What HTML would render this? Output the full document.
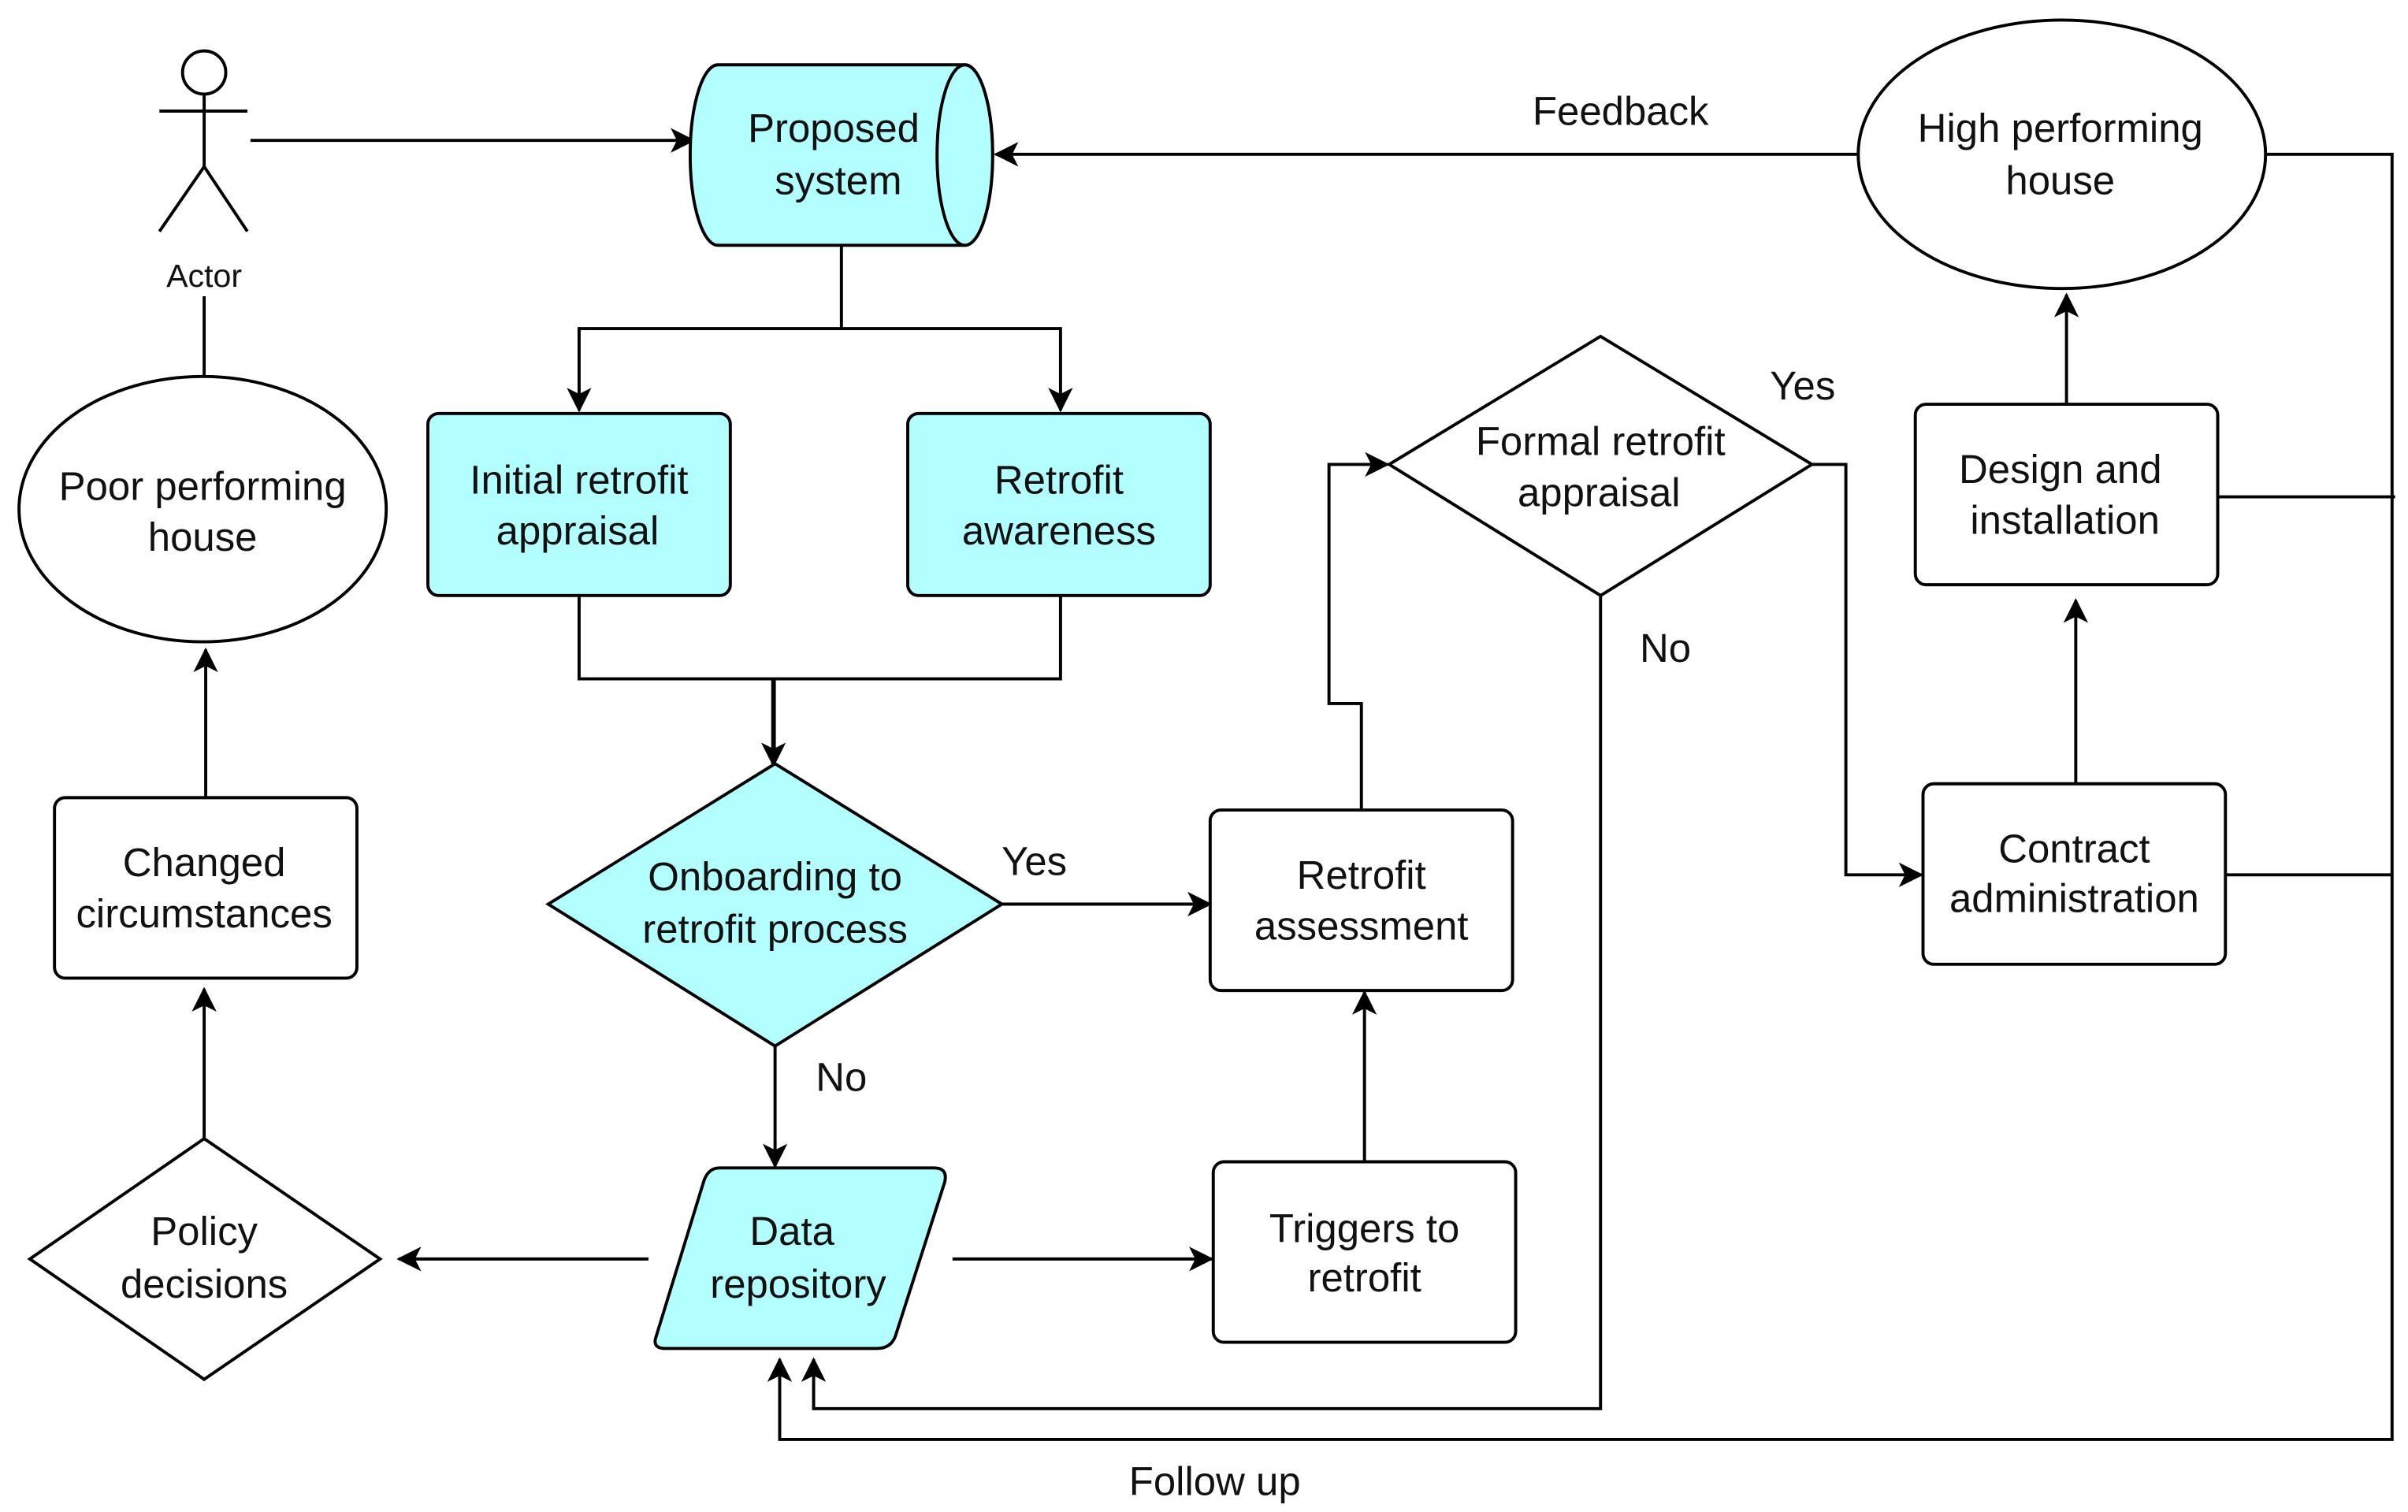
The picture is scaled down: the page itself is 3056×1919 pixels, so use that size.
<!DOCTYPE html>
<html><head><meta charset="utf-8"><style>
html,body{margin:0;padding:0;background:#fff;}
svg{display:block;}
text{font-family:"Liberation Sans",Arial,sans-serif;fill:#111;text-anchor:middle;}
</style></head><body>
<svg width="3056" height="1919" viewBox="0 0 1560 980" xmlns="http://www.w3.org/2000/svg">
<defs>
<marker id="a" viewBox="0 0 12 12" refX="11" refY="6" markerWidth="16" markerHeight="16" markerUnits="userSpaceOnUse" orient="auto">
<path d="M0,0 L12,6 L0,12 L3,6 Z" fill="#000"/>
</marker>
</defs>
<g stroke="#000" stroke-width="2" fill="none">
<circle cx="132" cy="47" r="14" fill="#fff"/>
<line x1="132" y1="61" x2="132" y2="108"/>
<line x1="103" y1="72" x2="160" y2="72"/>
<line x1="132" y1="108" x2="103" y2="150"/>
<line x1="132" y1="108" x2="160" y2="150"/>
<line x1="132" y1="192" x2="132" y2="245"/>
<line x1="162" y1="91" x2="449" y2="91" marker-end="url(#a)"/>
<line x1="1205" y1="100" x2="645" y2="100" marker-end="url(#a)"/>
<polyline points="1468,100 1550,100 1550,933 505,933 505,881" marker-end="url(#a)"/>
<line x1="1437" y1="322" x2="1552" y2="322"/>
<line x1="1442" y1="567" x2="1550" y2="567"/>
<polyline points="545,159 545,213 375,213 375,266" marker-end="url(#a)"/>
<polyline points="545,213 687,213 687,266" marker-end="url(#a)"/>
<polyline points="375,386 375,440 687,440 687,386"/>
<line x1="501" y1="440" x2="501" y2="496" stroke-width="3" marker-end="url(#a)"/>
<line x1="649" y1="586" x2="784" y2="586" marker-end="url(#a)"/>
<line x1="502" y1="678" x2="502" y2="756" marker-end="url(#a)"/>
<line x1="420" y1="816" x2="258" y2="816" marker-end="url(#a)"/>
<line x1="617" y1="816" x2="785" y2="816" marker-end="url(#a)"/>
<line x1="132" y1="738" x2="132" y2="641" marker-end="url(#a)"/>
<line x1="133" y1="517" x2="133" y2="421" marker-end="url(#a)"/>
<line x1="884" y1="753" x2="884" y2="643" marker-end="url(#a)"/>
<polyline points="882,525 882,456 861,456 861,301 899,301" marker-end="url(#a)"/>
<polyline points="1174,301 1196,301 1196,567 1245,567" marker-end="url(#a)"/>
<polyline points="1037,386 1037,913 527,913 527,881" marker-end="url(#a)"/>
<line x1="1345" y1="508" x2="1345" y2="389" marker-end="url(#a)"/>
<line x1="1339" y1="262" x2="1339" y2="191" marker-end="url(#a)"/>
</g>
<g stroke="#000" stroke-width="2">
<ellipse cx="131" cy="330" rx="119" ry="86" fill="#fff"/>
<ellipse cx="1336" cy="100" rx="132" ry="87" fill="#fff"/>
<path d="M465,42 L625,42 A18,58.5 0 0 1 625,159 L465,159 A18,58.5 0 0 1 465,42 Z" fill="#b3ffff"/>
<ellipse cx="625" cy="100.5" rx="18" ry="58.5" fill="#b3ffff"/>
<rect x="277" y="268" width="196" height="118" rx="7" fill="#b3ffff"/>
<rect x="588" y="268" width="196" height="118" rx="7" fill="#b3ffff"/>
<polygon points="502,495 649,586 502,678 355,586" fill="#b3ffff"/>
<path d="M466,757 L605,757 Q614,757 612,766 L580,866 Q577,874 568,874 L431,874 Q422,874 425,866 L456,765 Q459,757 466,757 Z" fill="#b3ffff"/>
<polygon points="132,738 246,816 132,894 19,816" fill="#fff"/>
<rect x="35" y="517" width="196" height="117" rx="7" fill="#fff"/>
<rect x="784" y="525" width="196" height="117" rx="7" fill="#fff"/>
<rect x="786" y="753" width="196" height="117" rx="7" fill="#fff"/>
<rect x="1246" y="508" width="196" height="117" rx="7" fill="#fff"/>
<rect x="1241" y="262" width="196" height="117" rx="7" fill="#fff"/>
<polygon points="1037,218 1174,301 1037,386 900,301" fill="#fff"/>
</g>
<g font-size="26">
<text x="132" y="186" font-size="21">Actor</text>
<text x="131" y="324">Poor performing</text><text x="131" y="357">house</text>
<text x="540" y="92">Proposed</text><text x="543" y="126">system</text>
<text x="1050" y="81">Feedback</text>
<text x="1335" y="92">High performing</text><text x="1335" y="126">house</text>
<text x="375" y="320">Initial retrofit</text><text x="374" y="353">appraisal</text>
<text x="686" y="320">Retrofit</text><text x="686" y="353">awareness</text>
<text x="1037" y="295">Formal retrofit</text><text x="1036" y="328">appraisal</text>
<text x="1168" y="259">Yes</text>
<text x="1079" y="429">No</text>
<text x="1335" y="313">Design and</text><text x="1338" y="346">installation</text>
<text x="502" y="577">Onboarding to</text><text x="502" y="611">retrofit process</text>
<text x="670" y="567">Yes</text>
<text x="545" y="707">No</text>
<text x="132" y="568">Changed</text><text x="132" y="601">circumstances</text>
<text x="882" y="576">Retrofit</text><text x="882" y="609">assessment</text>
<text x="1344" y="559">Contract</text><text x="1344" y="591">administration</text>
<text x="132" y="807">Policy</text><text x="132" y="841">decisions</text>
<text x="513" y="807">Data</text><text x="517" y="841">repository</text>
<text x="884" y="805">Triggers to</text><text x="884" y="837">retrofit</text>
<text x="787" y="969">Follow up</text>
</g>
</svg>
</body></html>
